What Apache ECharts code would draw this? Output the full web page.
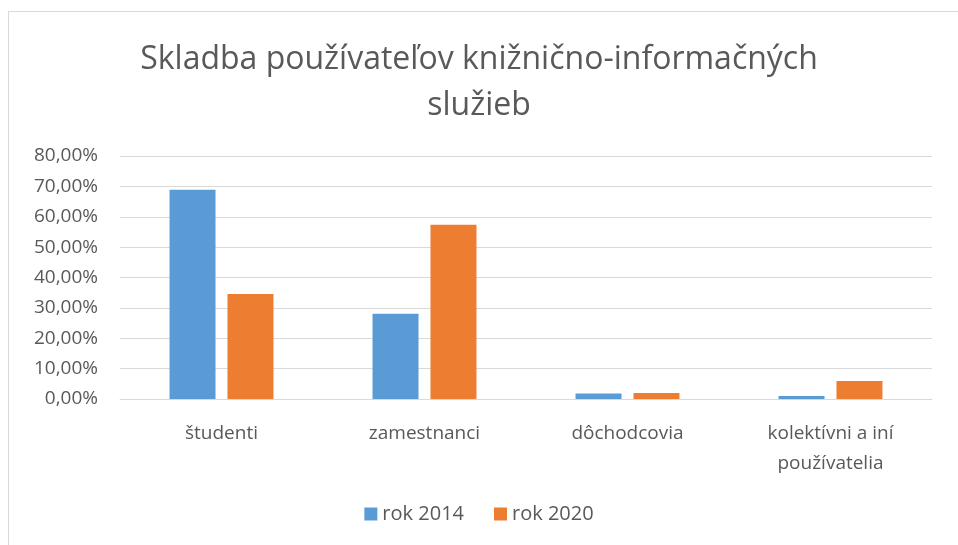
<!DOCTYPE html>
<html>
<head>
<meta charset="utf-8">
<script src="https://cdn.jsdelivr.net/npm/echarts@6/dist/echarts.min.js"></script>
<style>
    html, body { margin: 0; padding: 0; background: #fff; }
    #frame {
        position: absolute; left: 8px; top: 11px; width: 960px; height: 540px;
        border-left: 1px solid #d9d9d9; border-top: 1px solid #d9d9d9;
    }
    #chart { position: absolute; left: 0; top: 0; width: 958px; height: 545px; }
</style>
</head>
<body>
<div id="frame"></div>
<div id="chart"></div>
<script>
var categories = ['študenti', 'zamestnanci', 'dôchodcovia', 'kolektívni a iní\npoužívatelia'];
var rok2014 = [68.9, 28.1, 1.8, 1.0];
var rok2020 = [34.6, 57.4, 2.0, 5.9];
var yMax = 80;
var yStep = 10;

var textColor = '#595959';
var font = '"Open Sans", "Noto Sans", sans-serif';

var myChart = echarts.init(document.getElementById('chart'));

option = {
    animation: false,
    textStyle: { fontFamily: font },
    title: {
        text: 'Skladba používateľov knižnično-informačných\nslužieb',
        left: 'center',
        top: 32,
        textStyle: {
            color: textColor,
            fontSize: 32,
            fontWeight: 'normal',
            lineHeight: 46,
            fontFamily: font
        }
    },
    legend: {
        bottom: 16,
        left: 'center',
        itemWidth: 13,
        itemHeight: 13,
        itemGap: 30,
        icon: 'rect',
        textStyle: { color: textColor, fontSize: 20, fontFamily: font }
    },
    grid: {
        left: 120,
        right: 26,
        top: 156,
        bottom: 146
    },
    xAxis: {
        type: 'category',
        data: categories,
        axisLine: { lineStyle: { color: '#d9d9d9', width: 1 } },
        axisTick: { show: false },
        axisLabel: {
            color: textColor,
            fontSize: 19,
            margin: 20,
            lineHeight: 30,
            interval: 0
        }
    },
    yAxis: {
        type: 'value',
        min: 0,
        max: yMax,
        interval: yStep,
        axisLine: { show: false },
        axisTick: { show: false },
        splitLine: { lineStyle: { color: '#d9d9d9', width: 1 } },
        axisLabel: {
            color: textColor,
            fontSize: 19,
            margin: 22,
            formatter: function (v) { return v.toFixed(2).replace('.', ',') + '%'; }
        }
    },
    series: [
        {
            name: 'rok 2014',
            type: 'bar',
            data: rok2014,
            barWidth: 46,
            barGap: '26%',
            itemStyle: { color: '#5b9bd5' }
        },
        {
            name: 'rok 2020',
            type: 'bar',
            data: rok2020,
            barWidth: 46,
            itemStyle: { color: '#ed7d31' }
        }
    ]
};
myChart.setOption(option);
</script>
</body>
</html>
